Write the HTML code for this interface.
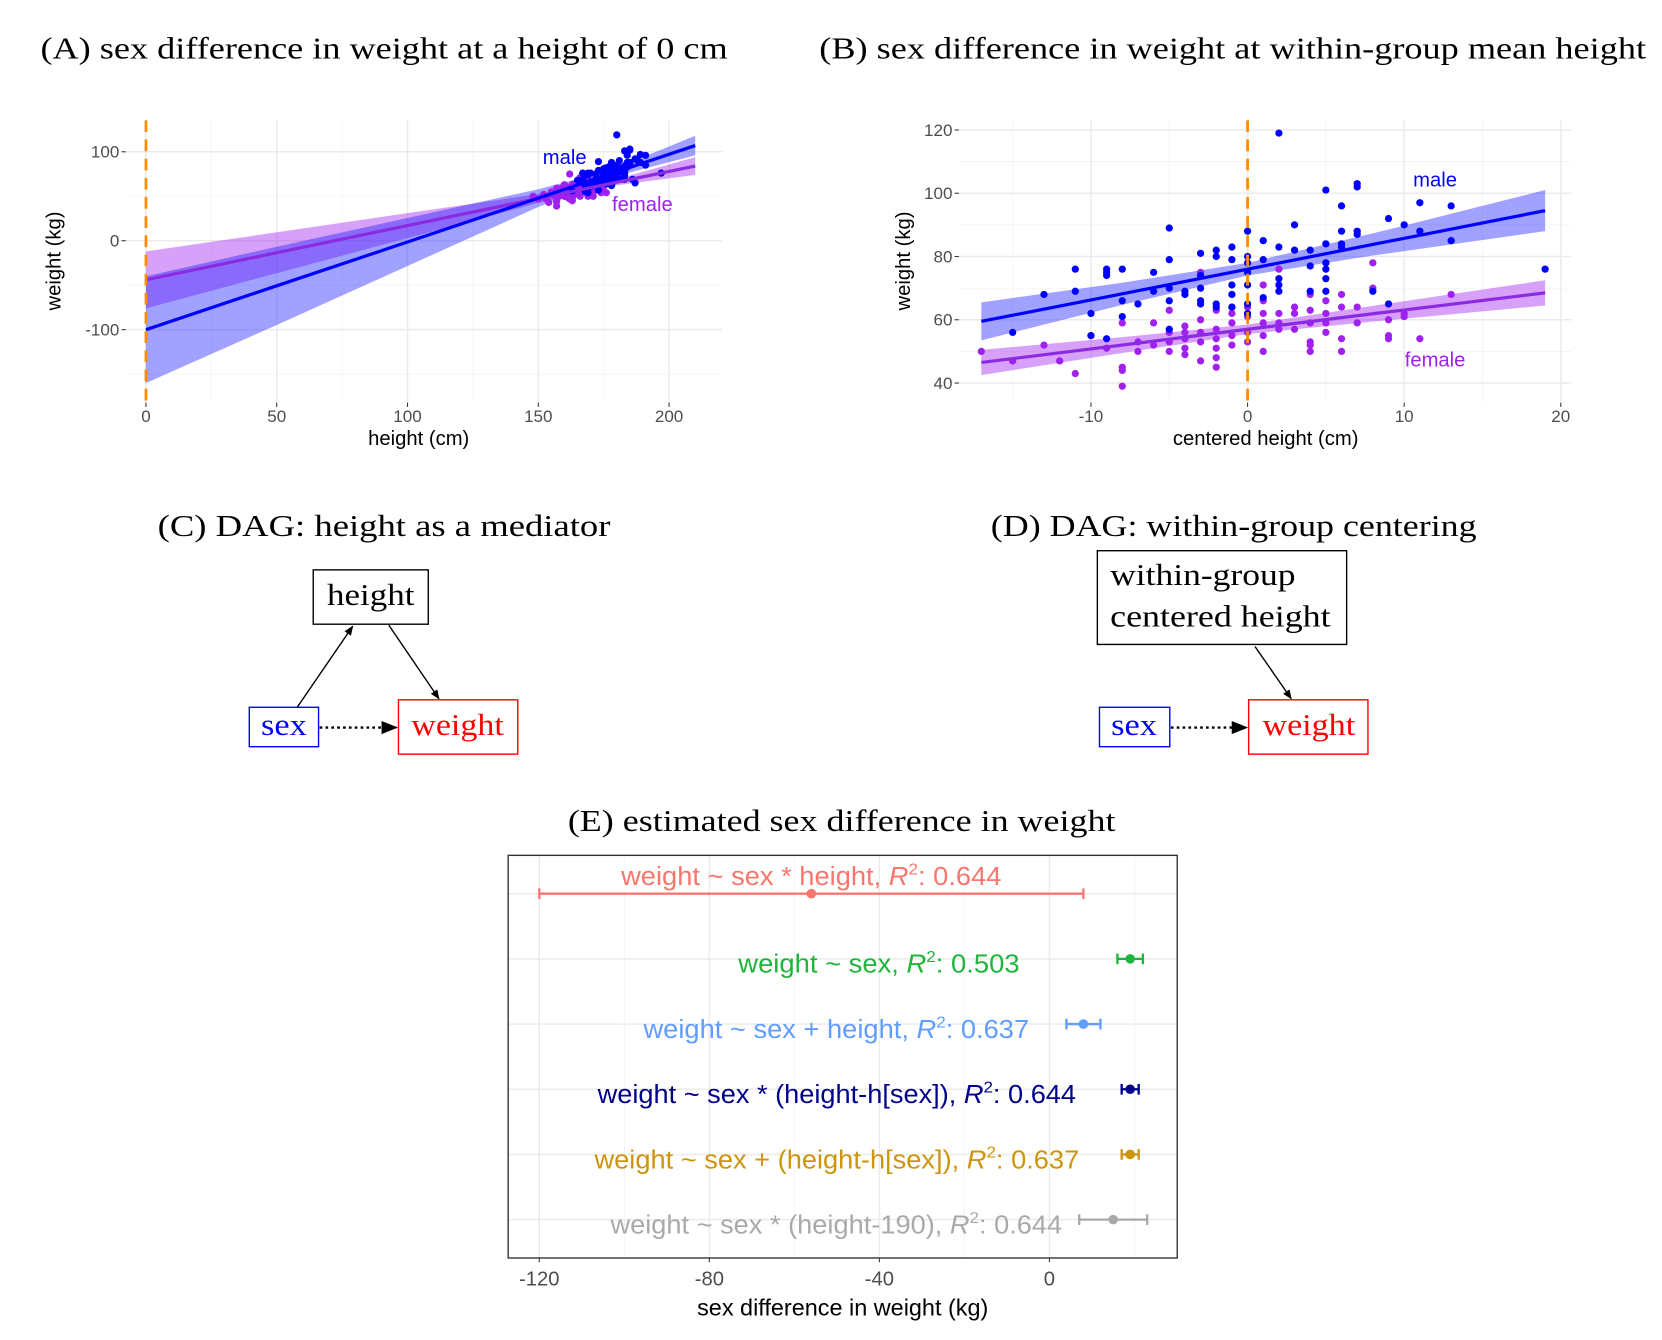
<!DOCTYPE html>
<html><head><meta charset="utf-8">
<style>
html,body{margin:0;padding:0;background:#fff;}
svg{display:block;}
.serif{font-family:"Liberation Serif",serif;}
.sans{font-family:"Liberation Sans",sans-serif;}
</style></head>
<body>
<svg id="fig" width="1662" height="1340" viewBox="0 0 1560 1258" preserveAspectRatio="none" xmlns="http://www.w3.org/2000/svg">
<defs>
<marker id="ah" viewBox="0 0 10 10" refX="9" refY="5" markerWidth="7" markerHeight="7" orient="auto"><path d="M0,1 L10,5 L0,9 z" fill="#000"/></marker>
</defs>
<text class="serif" x="38" y="55" font-size="29" textLength="645" lengthAdjust="spacingAndGlyphs">(A) sex difference in weight at a height of 0 cm</text>
<text class="serif" x="769" y="55" font-size="29" textLength="776" lengthAdjust="spacingAndGlyphs">(B) sex difference in weight at within-group mean height</text>
<g id="pa"></g>
<g id="pb"></g>

<g>
<text class="serif" x="148" y="503" font-size="29" textLength="425" lengthAdjust="spacingAndGlyphs">(C) DAG: height as a mediator</text>
<rect x="294" y="535" width="108" height="51" fill="#fff" stroke="#000" stroke-width="1.3"/>
<text class="serif" x="307" y="568" font-size="29" textLength="82" lengthAdjust="spacingAndGlyphs">height</text>
<rect x="234" y="664" width="65" height="37" fill="#fff" stroke="#0000ff" stroke-width="1.3"/>
<text class="serif" x="245" y="690" font-size="29" fill="#0000ff" textLength="43" lengthAdjust="spacingAndGlyphs">sex</text>
<rect x="374" y="657" width="112" height="51" fill="#fff" stroke="#ff0000" stroke-width="1.3"/>
<text class="serif" x="386" y="690" font-size="29" fill="#ff0000" textLength="87" lengthAdjust="spacingAndGlyphs">weight</text>
<line x1="279" y1="664" x2="331" y2="588" stroke="#000" stroke-width="1.3" marker-end="url(#ah)"/>
<line x1="365" y1="587" x2="412" y2="656" stroke="#000" stroke-width="1.3" marker-end="url(#ah)"/>
<line x1="300" y1="683" x2="372" y2="683" stroke="#000" stroke-width="2.2" stroke-dasharray="2.5,3" marker-end="url(#ah)"/>
</g>

<g>
<text class="serif" x="930" y="503" font-size="29" textLength="456" lengthAdjust="spacingAndGlyphs">(D) DAG: within-group centering</text>
<rect x="1030" y="517" width="234" height="88" fill="#fff" stroke="#000" stroke-width="1.3"/>
<text class="serif" x="1042" y="549" font-size="29" textLength="174" lengthAdjust="spacingAndGlyphs">within-group</text>
<text class="serif" x="1042" y="588" font-size="29" textLength="207" lengthAdjust="spacingAndGlyphs">centered height</text>
<rect x="1032" y="664" width="66" height="37" fill="#fff" stroke="#0000ff" stroke-width="1.3"/>
<text class="serif" x="1043" y="690" font-size="29" fill="#0000ff" textLength="43" lengthAdjust="spacingAndGlyphs">sex</text>
<rect x="1172" y="657" width="112" height="51" fill="#fff" stroke="#ff0000" stroke-width="1.3"/>
<text class="serif" x="1185" y="690" font-size="29" fill="#ff0000" textLength="87" lengthAdjust="spacingAndGlyphs">weight</text>
<line x1="1178" y1="607" x2="1212" y2="656" stroke="#000" stroke-width="1.3" marker-end="url(#ah)"/>
<line x1="1099" y1="683" x2="1170" y2="683" stroke="#000" stroke-width="2.2" stroke-dasharray="2.5,3" marker-end="url(#ah)"/>
</g>

<text class="serif" x="533" y="780" font-size="29" textLength="514" lengthAdjust="spacingAndGlyphs">(E) estimated sex difference in weight</text>
<g id="pe"></g>
</svg>
<script>
// ---------- Panel B data (centered height, weight) ----------
const maleCX=[2,-5,5,7,7,6,11,13,9,10,11,13,3,0,1,2,-1,-2,-2,-3,-5,-1,1,0,0,0,3,4,4,5,5,5,6,6,6,7,7,5,-11,-9,-9,-9,-8,-6,-3,-11,-13,-10,-10,-9,-15,-8,-8,-7,-6,-5,-5,-4,-4,-3,-3,-3,-2,-2,-1,-1,-1,0,0,0,1,2,2,2,4,5,8,9,19,-5];
const maleW=[119,89,101,103,102,96,97,96,92,90,88,85,90,88,85,83,83,82,80,81,79,79,79,80,78,75,82,82,77,78,76,73,88,84,83,88,87,84,76,76,75,74,76,75,74,69,68,62,55,54,56,66,61,65,69,70,66,69,68,70,66,65,65,64,71,68,64,71,65,62,67,73,71,69,69,69,69,65,76,57];
const femaleCX=[-17,-15,-13,-12,-11,-10,-9,-8,-8,-8,-8,-7,-7,-6,-6,-5,-5,-5,-5,-4,-4,-4,-4,-4,-3,-3,-3,-3,-3,-2,-2,-2,-2,-2,-2,-1,-1,-1,-1,-1,0,0,0,0,1,1,1,1,1,1,2,2,2,2,3,3,3,4,4,4,4,4,4,5,5,5,5,6,6,6,6,7,7,8,8,9,9,9,10,10,11,13];
const femaleW=[50,47,52,47,43,55,51,59,45,44,39,53,50,59,52,63,56,50,53,58,54,51,49,56,75,60,53,47,56,63,57,51,48,45,54,64,62,59,55,52,64,61,56,53,71,66,62,59,55,50,76,62,57,59,64,62,57,68,63,59,53,50,52,66,62,56,59,68,64,54,50,64,59,78,70,60,55,54,62,61,54,68];
const maleMeanH=[178];
const femaleMeanH=[165];
// regression fits (panel A scale: height in cm)
const fitX=[0,50,100,150,178,210];
const maleFit=[-100,-50.7,-1.4,47.9,75.5,107];
const maleHalf=[60,44,27,10,4,11];
const femaleFit=[-44,-13.5,17,47.5,64.6,84];
const femaleHalf=[32,23,14,5,3,10];
// panel B fits (centered height)
const fitBX=[-17,-8,0,8,19];
const maleFitB=[59.5,68.2,76,83.8,94.5];
const maleHalfB=[6,3.5,2,3.5,6.5];
const femaleFitB=[46.5,52,57,61.9,68.5];
const femaleHalfB=[4,2.5,1.5,2.5,4];
// axis ticks
const aXTicks=[0,50,100,150,200];
const aXMinor=[25,75,125,175];
const aYTicks=[100,0,-100];
const aYMinor=[50,-50,-150];
const bXTicks=[-10,0,10,20];
const bXMinor=[-15,-5,5,15];
const bYTicks=[120,100,80,60,40];
const bYMinor=[110,90,70,50];
// ---------- Panel E data ----------
const models=["weight ~ sex * height","weight ~ sex","weight ~ sex + height","weight ~ sex * (height-h[sex])","weight ~ sex + (height-h[sex])","weight ~ sex * (height-190)"];
const r2=["0.644","0.503","0.637","0.644","0.637","0.644"];
const est=[-56,19,8,19,19,15];
const lo=[-120,16,4,17,17,7];
const hi=[8,22,12,21,21,23];
const eXTicks=[-120,-80,-40,0];
const eXMinor=[-100,-60,-20,20];

const NS="http://www.w3.org/2000/svg";
function mk(parent,tag,attrs,text){const e=document.createElementNS(NS,tag);for(const k in attrs)e.setAttribute(k,attrs[k]);if(text!==undefined)e.textContent=text;parent.appendChild(e);return e;}

function drawScatterPanel(g,o){
  const {x0,x1,y0,y1,sx,sy,xt,xm,yt,ym,tag}=o;
  const bg=mk(g,'rect',{x:x0,y:y0,width:x1-x0,height:y1-y0,fill:'#fff'});
  
  
  xm.forEach(v=>{const l=mk(g,'line',{x1:sx(v),x2:sx(v),y1:y0,y2:y1,stroke:'#f3f3f3','stroke-width':0.8});
    
    });
  ym.forEach(v=>{const l=mk(g,'line',{y1:sy(v),y2:sy(v),x1:x0,x2:x1,stroke:'#f3f3f3','stroke-width':0.8});
    
    });
  xt.forEach(v=>{const l=mk(g,'line',{x1:sx(v),x2:sx(v),y1:y0,y2:y1,stroke:'#ebebeb','stroke-width':1.4});
    
    
    const t=mk(g,'line',{x1:sx(v),x2:sx(v),y1:y1,y2:y1+4,stroke:'#333','stroke-width':1});
    
    
    const lb=mk(g,'text',{x:sx(v),y:y1+18,'font-size':16,fill:'#4d4d4d','text-anchor':'middle',class:'sans'},String(v));
    
    });
  yt.forEach(v=>{const l=mk(g,'line',{y1:sy(v),y2:sy(v),x1:x0,x2:x1,stroke:'#ebebeb','stroke-width':1.4});
    
    
    const t=mk(g,'line',{x1:x0-4,x2:x0,y1:sy(v),y2:sy(v),stroke:'#333','stroke-width':1});
    
    
    const lb=mk(g,'text',{x:x0-6,y:sy(v)+5.5,'font-size':16,fill:'#4d4d4d','text-anchor':'end',class:'sans'},String(v));
    
    });
}
function ribbon(g,xs,fit,half,sx,sy,color,name){
  let d='';
  xs.forEach((x,i)=>{d+=(i?'L':'M')+sx(x)+','+sy(fit[i]+half[i]);});
  for(let i=xs.length-1;i>=0;i--)d+='L'+sx(xs[i])+','+sy(fit[i]-half[i]);
  const p=mk(g,'path',{d:d+'Z',fill:color,'fill-opacity':0.42});
  
  
}
function fitline(g,xs,fit,sx,sy,color,name){
  const pl=mk(g,'polyline',{points:xs.map((x,i)=>sx(x)+','+sy(fit[i])).join(' '),fill:'none',stroke:color,'stroke-width':3});
  
  
}
function points(g,xs,ys,off,sx,sy,color,name){
  xs.forEach((x,i)=>{const c=mk(g,'circle',{cx:sx(x+off),cy:sy(ys[i]),r:3.4,fill:color});
    
    });
}
const MALE='#0000ff', FEM='#a020f0';

// ---------- Panel A ----------
(function(){
const g=document.getElementById('pa');
const sx=v=>137+v*2.455, sy=v=>226-v*0.835;
drawScatterPanel(g,{x0:118,x1:678,y0:113,y1:378,sx,sy,xt:aXTicks,xm:aXMinor,yt:aYTicks,ym:aYMinor,tag:'panel-a'});
ribbon(g,fitX,femaleFit,femaleHalf,sx,sy,'#a020f0','female-ribbon-a');
ribbon(g,fitX,maleFit,maleHalf,sx,sy,'#2020ff','male-ribbon-a');
points(g,femaleCX,femaleW,femaleMeanH[0],sx,sy,FEM,'female-point-a');
points(g,maleCX,maleW,maleMeanH[0],sx,sy,MALE,'male-point-a');
fitline(g,fitX,femaleFit,sx,sy,'#8a2be2','female-fit-line-a');
fitline(g,fitX,maleFit,sx,sy,MALE,'male-fit-line-a');
const d=mk(g,'line',{x1:sx(0),x2:sx(0),y1:113,y2:378,stroke:'#ff8c00','stroke-width':2.6,'stroke-dasharray':'11,7'});


const m=mk(g,'text',{x:530,y:154,'font-size':19,fill:MALE,'text-anchor':'middle',class:'sans'},'male');


const f=mk(g,'text',{x:603,y:198,'font-size':19,fill:FEM,'text-anchor':'middle',class:'sans'},'female');


const xt=mk(g,'text',{x:393,y:418,'font-size':19,'text-anchor':'middle',class:'sans'},'height (cm)');


const yt=mk(g,'text',{x:0,y:0,'font-size':19,'text-anchor':'middle',class:'sans',transform:'translate(57,245) rotate(-90)'},'weight (kg)');


})();

// ---------- Panel B ----------
(function(){
const g=document.getElementById('pb');
const sx=v=>1171+v*14.7, sy=v=>122+(120-v)*2.97;
drawScatterPanel(g,{x0:900,x1:1475,y0:113,y1:378,sx,sy,xt:bXTicks,xm:bXMinor,yt:bYTicks,ym:bYMinor,tag:'panel-b'});
ribbon(g,fitBX,femaleFitB,femaleHalfB,sx,sy,'#a020f0','female-ribbon-b');
ribbon(g,fitBX,maleFitB,maleHalfB,sx,sy,'#2020ff','male-ribbon-b');
points(g,femaleCX,femaleW,0,sx,sy,FEM,'female-point-b');
points(g,maleCX,maleW,0,sx,sy,MALE,'male-point-b');
fitline(g,fitBX,femaleFitB,sx,sy,'#8a2be2','female-fit-line-b');
fitline(g,fitBX,maleFitB,sx,sy,MALE,'male-fit-line-b');
const d=mk(g,'line',{x1:sx(0),x2:sx(0),y1:113,y2:378,stroke:'#ff8c00','stroke-width':2.6,'stroke-dasharray':'11,7'});


const m=mk(g,'text',{x:1347,y:175,'font-size':19,fill:MALE,'text-anchor':'middle',class:'sans'},'male');


const f=mk(g,'text',{x:1347,y:344,'font-size':19,fill:FEM,'text-anchor':'middle',class:'sans'},'female');


const xt=mk(g,'text',{x:1188,y:418,'font-size':19,'text-anchor':'middle',class:'sans'},'centered height (cm)');


const yt=mk(g,'text',{x:0,y:0,'font-size':19,'text-anchor':'middle',class:'sans',transform:'translate(854,245) rotate(-90)'},'weight (kg)');


})();

// ---------- Panel E ----------
(function(){
const g=document.getElementById('pe');
const sx=v=>985+v*3.99;
const rowY=i=>839+i*61.2;
const colors=['#f8766d','#1db53c','#619cff','#00008b','#cd950c','#a9a9a9'];
const labelStart=[583,693,604,561,558,573];
const labelEnd=[940,957,966,1010,1013,997];
const x0=477,x1=1105,y0=803,y1=1181;
eXMinor.forEach(v=>{const l=mk(g,'line',{x1:sx(v),x2:sx(v),y1:y0,y2:y1,stroke:'#f3f3f3','stroke-width':0.8});
  
  });
eXTicks.forEach(v=>{const l=mk(g,'line',{x1:sx(v),x2:sx(v),y1:y0,y2:y1,stroke:'#ebebeb','stroke-width':1.4});
  
  
  const t=mk(g,'line',{x1:sx(v),x2:sx(v),y1:y1,y2:y1+4,stroke:'#333','stroke-width':1});
  
  
  const lb=mk(g,'text',{x:sx(v),y:y1+26,'font-size':19,fill:'#4d4d4d','text-anchor':'middle',class:'sans'},String(v));
  
  });
models.forEach((m,i)=>{
  const y=rowY(i);
  const gl=mk(g,'line',{x1:x0,x2:x1,y1:y,y2:y,stroke:'#ebebeb','stroke-width':1.4});
  
  
  const c=colors[i];
  const bar=mk(g,'line',{x1:sx(lo[i]),x2:sx(hi[i]),y1:y,y2:y,stroke:c,'stroke-width':2.2});
  
  
  [lo[i],hi[i]].forEach(v=>{const cap=mk(g,'line',{x1:sx(v),x2:sx(v),y1:y-5,y2:y+5,stroke:c,'stroke-width':2.2});
    
    });
  const pt=mk(g,'circle',{cx:sx(est[i]),cy:y,r:4.5,fill:c});
  
  
  const ty=i===0?y-8:y+13;
  const t=mk(g,'text',{x:labelStart[i],y:ty,'font-size':24,fill:c,class:'sans',textLength:labelEnd[i]-labelStart[i],lengthAdjust:'spacingAndGlyphs'});
  
  
  const s1=document.createElementNS(NS,'tspan');s1.textContent=m+', ';t.appendChild(s1);
  const s2=document.createElementNS(NS,'tspan');s2.setAttribute('font-style','italic');s2.textContent='R';t.appendChild(s2);
  const s3=document.createElementNS(NS,'tspan');s3.setAttribute('font-size','15');s3.setAttribute('dy','-10');s3.textContent='2';t.appendChild(s3);
  const s4=document.createElementNS(NS,'tspan');s4.setAttribute('dy','10');s4.textContent=': '+r2[i];t.appendChild(s4);
});
const fr=mk(g,'rect',{x:x0,y:y0,width:x1-x0,height:y1-y0,fill:'none',stroke:'#333','stroke-width':1.3});


const xt=mk(g,'text',{x:791,y:1235,'font-size':22,'text-anchor':'middle',class:'sans'},'sex difference in weight (kg)');


})();
</script>
</body></html>
